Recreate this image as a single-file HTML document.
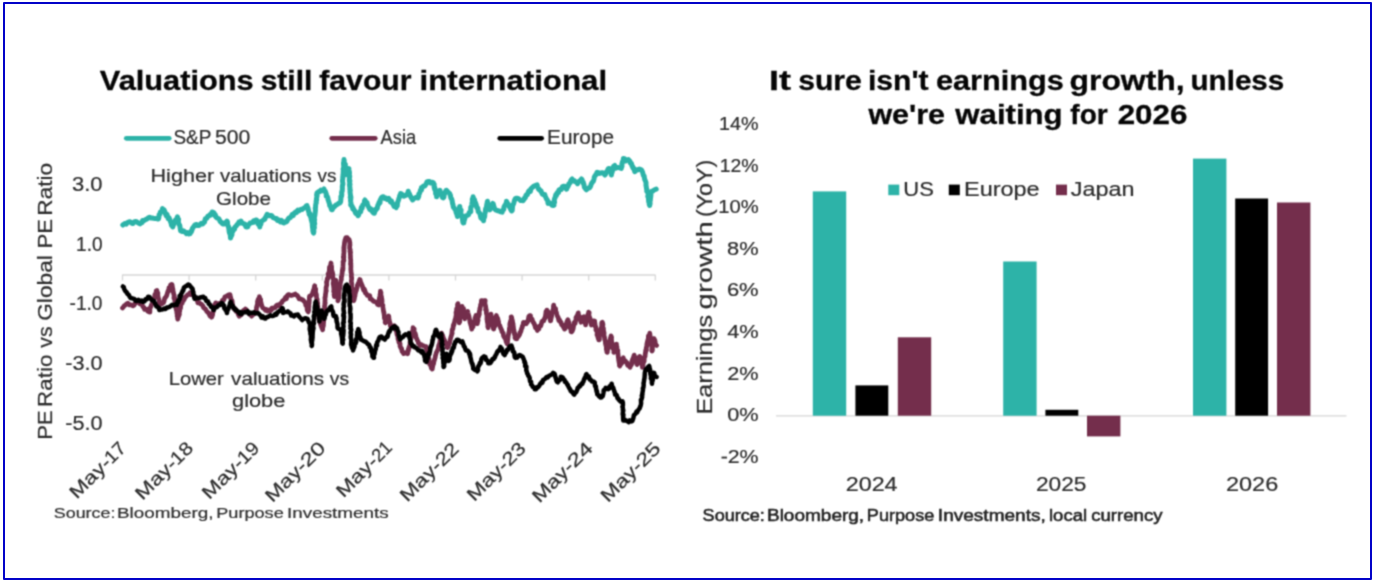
<!DOCTYPE html>
<html lang="en"><head><meta charset="utf-8"><title>Valuations still favour international</title>
<style>html,body{margin:0;padding:0;background:#fff;}body{width:1378px;height:586px;overflow:hidden;}svg{display:block;font-family:"Liberation Sans",sans-serif;}text{stroke:#2c2c2c;stroke-width:0.2px;}</style>
</head><body>
<svg width="1378" height="586" viewBox="0 0 1378 586">
<defs><filter id="soft" x="0" y="0" width="1378" height="586" filterUnits="userSpaceOnUse" color-interpolation-filters="sRGB"><feConvolveMatrix order="3" kernelMatrix="0.0484 0.1232 0.0484 0.1232 0.3136 0.1232 0.0484 0.1232 0.0484" divisor="1" edgeMode="duplicate" preserveAlpha="true"/></filter></defs>
<g filter="url(#soft)">
<rect x="0" y="0" width="1378" height="586" fill="#ffffff"/>
<g id="left-chart">
<text y="90.2" font-size="27.5" font-weight="bold" fill="#050505" style="stroke:#050505;stroke-width:0.3px"><tspan x="99.85" textLength="153.87" lengthAdjust="spacingAndGlyphs">Valuations</tspan> <tspan x="260.65" textLength="51.69" lengthAdjust="spacingAndGlyphs">still</tspan> <tspan x="319.25" textLength="92.28" lengthAdjust="spacingAndGlyphs">favour</tspan> <tspan x="419.57" textLength="187.55" lengthAdjust="spacingAndGlyphs">international</tspan></text>
<line x1="126.3" y1="138.3" x2="169.2" y2="138.3" stroke="#2db3a8" stroke-width="4.8" stroke-linecap="round"/>
<text y="144.4" font-size="19.3" fill="#2c2c2c"><tspan x="173.45" textLength="37.62" lengthAdjust="spacingAndGlyphs">S&amp;P</tspan> <tspan x="214.95" textLength="35.31" lengthAdjust="spacingAndGlyphs">500</tspan></text>
<line x1="331.8" y1="138.3" x2="375.2" y2="138.3" stroke="#742e4c" stroke-width="4.8" stroke-linecap="round"/>
<text y="144.4" font-size="19.3" fill="#2c2c2c"><tspan x="380.60" textLength="35.53" lengthAdjust="spacingAndGlyphs">Asia</tspan></text>
<line x1="499.8" y1="138.3" x2="541.6" y2="138.3" stroke="#000000" stroke-width="4.8" stroke-linecap="round"/>
<text y="144.4" font-size="19.3" fill="#2c2c2c"><tspan x="547.04" textLength="67.02" lengthAdjust="spacingAndGlyphs">Europe</tspan></text>
<line x1="122" y1="275" x2="655.5" y2="275" stroke="#d6d6d6" stroke-width="1.4"/>
<line x1="122.5" y1="275" x2="122.5" y2="280.5" stroke="#d6d6d6" stroke-width="1.3"/>
<line x1="189.1" y1="275" x2="189.1" y2="280.5" stroke="#d6d6d6" stroke-width="1.3"/>
<line x1="255.7" y1="275" x2="255.7" y2="280.5" stroke="#d6d6d6" stroke-width="1.3"/>
<line x1="322.3" y1="275" x2="322.3" y2="280.5" stroke="#d6d6d6" stroke-width="1.3"/>
<line x1="388.9" y1="275" x2="388.9" y2="280.5" stroke="#d6d6d6" stroke-width="1.3"/>
<line x1="455.5" y1="275" x2="455.5" y2="280.5" stroke="#d6d6d6" stroke-width="1.3"/>
<line x1="522.1" y1="275" x2="522.1" y2="280.5" stroke="#d6d6d6" stroke-width="1.3"/>
<line x1="588.7" y1="275" x2="588.7" y2="280.5" stroke="#d6d6d6" stroke-width="1.3"/>
<line x1="655.3" y1="275" x2="655.3" y2="280.5" stroke="#d6d6d6" stroke-width="1.3"/>
<text y="190.6" font-size="19.5" fill="#2c2c2c"><tspan x="72.03" textLength="30.56" lengthAdjust="spacingAndGlyphs">3.0</tspan></text>
<text y="250.5" font-size="19.5" fill="#2c2c2c"><tspan x="76.08" textLength="26.41" lengthAdjust="spacingAndGlyphs">1.0</tspan></text>
<text y="310.3" font-size="19.5" fill="#2c2c2c"><tspan x="69.53" textLength="32.96" lengthAdjust="spacingAndGlyphs">-1.0</tspan></text>
<text y="370.3" font-size="19.5" fill="#2c2c2c"><tspan x="65.23" textLength="37.35" lengthAdjust="spacingAndGlyphs">-3.0</tspan></text>
<text y="430.1" font-size="19.5" fill="#2c2c2c"><tspan x="65.23" textLength="37.35" lengthAdjust="spacingAndGlyphs">-5.0</tspan></text>
<text y="0" font-size="21" fill="#2c2c2c" transform="translate(52.4 438) rotate(-90)"><tspan x="-1.76" textLength="29.39" lengthAdjust="spacingAndGlyphs">PE</tspan> <tspan x="31.11" textLength="52.21" lengthAdjust="spacingAndGlyphs">Ratio</tspan> <tspan x="90.30" textLength="21.24" lengthAdjust="spacingAndGlyphs">vs</tspan> <tspan x="117.16" textLength="65.75" lengthAdjust="spacingAndGlyphs">Global</tspan> <tspan x="189.63" textLength="29.50" lengthAdjust="spacingAndGlyphs">PE</tspan> <tspan x="222.29" textLength="52.95" lengthAdjust="spacingAndGlyphs">Ratio</tspan></text>
<text y="182.2" font-size="19.0" fill="#2c2c2c"><tspan x="150.47" textLength="63.71" lengthAdjust="spacingAndGlyphs">Higher</tspan> <tspan x="220.00" textLength="91.81" lengthAdjust="spacingAndGlyphs">valuations</tspan> <tspan x="317.60" textLength="18.86" lengthAdjust="spacingAndGlyphs">vs</tspan></text>
<text y="204.9" font-size="19.0" fill="#2c2c2c"><tspan x="216.07" textLength="54.98" lengthAdjust="spacingAndGlyphs">Globe</tspan></text>
<text y="384.9" font-size="19.0" fill="#2c2c2c"><tspan x="168.78" textLength="55.08" lengthAdjust="spacingAndGlyphs">Lower</tspan> <tspan x="231.10" textLength="92.92" lengthAdjust="spacingAndGlyphs">valuations</tspan> <tspan x="329.80" textLength="19.27" lengthAdjust="spacingAndGlyphs">vs</tspan></text>
<text y="407.2" font-size="19.0" fill="#2c2c2c"><tspan x="232.03" textLength="53.37" lengthAdjust="spacingAndGlyphs">globe</tspan></text>
<path d="M122.8 225.0 L123.9 224.1 L125.0 223.5 L126.2 224.1 L127.5 222.5 L128.7 222.0 L130.1 221.7 L131.8 223.3 L133.0 223.5 L134.2 221.9 L135.9 221.4 L137.0 222.0 L138.0 222.8 L140.0 223.9 L141.0 223.0 L142.1 222.6 L142.6 220.4 L144.0 220.5 L145.2 219.8 L147.0 218.9 L148.0 217.9 L149.5 217.2 L151.0 218.1 L152.0 218.0 L153.5 218.3 L154.8 218.4 L155.9 218.6 L157.4 218.9 L158.4 219.0 L158.9 217.3 L159.1 214.7 L160.0 214.0 L160.3 212.1 L161.2 212.0 L161.8 210.9 L162.5 208.6 L163.6 210.9 L163.9 209.6 L165.0 212.0 L165.6 214.3 L166.2 215.6 L167.1 214.5 L167.6 216.8 L168.2 218.6 L169.1 217.9 L170.0 220.0 L170.7 222.4 L170.7 221.3 L171.0 222.5 L171.5 225.4 L172.2 226.0 L172.7 227.0 L173.5 224.9 L174.0 223.5 L174.4 222.3 L175.0 222.0 L175.4 220.0 L176.4 220.6 L177.1 217.6 L177.4 216.8 L177.6 217.2 L178.0 220.1 L178.6 219.4 L178.3 220.9 L178.6 223.5 L179.0 224.0 L179.0 224.6 L179.7 225.3 L180.0 226.8 L180.2 228.3 L180.6 231.0 L180.9 231.0 L182.6 231.5 L183.4 230.8 L185.0 232.0 L186.6 233.7 L187.4 232.7 L189.0 234.0 L190.1 233.6 L190.9 231.2 L191.3 232.0 L192.0 230.0 L192.4 228.5 L193.9 226.3 L194.4 225.6 L195.0 225.0 L196.6 224.5 L197.5 225.6 L199.0 225.5 L200.3 224.2 L201.1 223.4 L202.4 224.0 L203.4 223.2 L203.8 222.3 L204.5 222.1 L205.3 218.7 L205.9 218.9 L207.0 218.0 L207.8 216.2 L208.4 216.2 L209.9 214.6 L210.6 215.2 L211.4 213.5 L212.2 212.0 L212.6 212.1 L214.0 212.7 L214.8 215.5 L215.3 214.8 L216.0 217.0 L217.2 218.0 L218.3 218.5 L219.0 218.9 L220.2 221.6 L220.9 222.0 L222.1 223.3 L223.3 224.1 L224.0 224.0 L225.1 222.6 L226.3 223.0 L227.0 221.0 L227.5 222.1 L227.6 224.5 L227.8 225.2 L228.2 226.4 L228.5 226.3 L229.0 230.0 L229.0 230.0 L229.2 231.9 L229.6 233.3 L230.0 233.8 L230.2 234.3 L230.3 235.4 L230.5 238.0 L230.7 236.8 L231.3 236.1 L232.0 234.7 L231.7 232.6 L232.5 232.0 L233.3 230.2 L233.5 228.7 L234.5 229.3 L235.0 227.0 L236.3 225.8 L237.1 224.6 L238.0 224.0 L238.9 222.2 L240.3 222.8 L241.0 221.0 L241.9 223.0 L242.9 223.2 L244.0 224.0 L244.8 224.1 L245.9 226.9 L246.5 227.0 L247.8 226.7 L248.0 224.8 L249.0 224.5 L250.0 223.1 L251.0 223.0 L252.2 222.6 L253.6 221.0 L254.5 222.0 L255.7 220.0 L256.5 219.9 L258.0 222.0 L258.1 224.2 L259.0 225.0 L259.6 225.3 L259.8 227.0 L260.0 224.5 L260.3 224.5 L260.9 224.3 L261.2 221.3 L262.0 221.0 L262.8 220.5 L263.8 219.6 L264.9 219.1 L265.2 217.9 L266.0 216.5 L267.1 214.4 L268.0 214.8 L269.2 215.7 L271.0 215.5 L271.9 215.7 L273.0 217.5 L274.0 217.8 L275.4 218.6 L276.7 218.6 L277.4 220.5 L279.0 220.0 L280.4 221.9 L281.5 220.5 L283.1 222.6 L284.0 223.0 L285.1 221.7 L286.2 222.0 L287.0 221.2 L287.8 219.4 L289.0 218.0 L290.2 217.7 L291.0 216.6 L292.1 214.6 L293.1 215.7 L293.9 213.7 L294.6 212.7 L296.0 211.7 L296.6 212.5 L297.8 210.0 L299.1 210.7 L300.0 210.0 L301.0 209.3 L302.3 209.5 L304.0 208.0 L304.7 207.9 L306.2 205.9 L307.0 205.5 L307.1 205.9 L308.0 208.1 L308.3 210.3 L308.6 211.9 L309.0 212.0 L309.1 214.3 L309.8 213.6 L310.4 214.9 L310.6 217.0 L311.0 217.8 L311.3 220.1 L311.4 220.0 L312.1 222.8 L312.3 222.5 L312.3 225.9 L312.5 226.0 L312.5 227.6 L312.9 228.9 L312.8 230.5 L313.4 232.8 L313.6 233.0 L313.9 231.5 L313.8 230.6 L313.5 229.7 L313.9 228.0 L314.4 227.9 L314.1 224.8 L314.2 223.2 L314.7 223.7 L314.3 221.5 L314.6 219.5 L314.3 220.2 L314.3 218.5 L314.6 215.7 L314.8 215.8 L315.0 214.0 L315.2 212.4 L315.4 210.5 L315.4 209.3 L315.2 208.4 L315.5 207.9 L315.6 206.3 L315.6 205.4 L316.0 203.3 L316.1 203.2 L316.3 202.6 L316.1 201.3 L316.7 199.8 L316.4 199.0 L317.0 196.2 L317.2 194.7 L316.6 195.2 L317.0 193.0 L318.7 191.6 L320.0 191.5 L321.0 190.0 L322.6 190.7 L324.0 189.0 L324.2 190.9 L325.1 191.1 L325.3 191.2 L326.3 194.1 L326.2 196.1 L327.0 196.0 L327.6 197.3 L328.0 198.7 L327.9 199.2 L328.3 200.3 L329.1 202.8 L329.5 204.0 L329.7 205.6 L330.3 206.0 L331.4 209.1 L331.5 209.6 L332.1 209.8 L333.6 206.7 L334.3 206.8 L335.0 206.0 L336.0 204.9 L336.9 204.7 L338.0 204.0 L338.5 203.4 L340.1 202.8 L340.7 201.4 L340.8 199.3 L340.9 199.5 L340.9 196.8 L340.9 196.4 L341.6 196.1 L341.8 194.4 L341.6 192.9 L341.8 191.6 L342.2 191.3 L342.4 188.2 L342.4 188.2 L342.3 187.1 L342.5 185.0 L342.9 184.8 L342.9 183.1 L342.6 182.0 L342.5 180.7 L342.8 178.5 L342.8 176.4 L343.1 176.9 L343.4 174.6 L343.0 174.5 L343.3 173.3 L343.2 171.7 L343.5 171.7 L343.6 169.7 L343.1 169.2 L343.8 167.1 L343.6 164.9 L343.5 163.2 L343.5 162.8 L344.2 161.3 L343.9 160.8 L344.0 159.5 L344.3 161.9 L344.5 163.2 L344.3 163.9 L345.1 164.6 L345.4 164.4 L345.3 165.9 L345.5 168.0 L345.8 168.5 L345.7 171.0 L346.2 173.2 L346.6 173.5 L346.8 174.8 L346.9 173.3 L347.3 172.8 L347.7 170.6 L347.8 170.0 L348.9 168.7 L348.6 169.4 L348.7 170.4 L349.3 171.4 L349.5 173.2 L348.9 175.4 L349.7 177.2 L349.7 176.0 L349.4 178.2 L349.3 180.8 L349.9 180.8 L349.6 182.5 L350.0 184.4 L349.5 184.7 L349.8 185.9 L349.6 186.0 L350.0 188.0 L349.8 189.3 L350.3 190.4 L350.0 191.6 L350.2 193.2 L350.4 195.0 L350.8 196.8 L350.3 197.4 L350.9 197.0 L350.7 200.0 L350.5 200.1 L350.8 202.2 L351.0 203.2 L350.7 204.9 L351.0 205.5 L352.1 206.0 L352.8 208.8 L352.9 207.7 L354.0 210.0 L354.7 210.6 L355.3 212.6 L356.1 213.6 L357.3 213.6 L358.0 215.8 L358.7 214.8 L359.2 213.2 L359.7 211.6 L360.7 211.8 L361.0 210.0 L361.2 207.6 L362.1 208.3 L362.3 206.9 L362.8 204.8 L363.4 204.6 L364.4 202.9 L364.5 200.8 L365.0 200.0 L365.9 201.8 L366.1 202.2 L367.1 202.6 L367.1 203.7 L368.0 206.0 L368.7 207.1 L369.3 208.4 L369.9 209.6 L371.1 209.1 L371.5 209.7 L372.4 211.7 L373.6 213.0 L374.4 213.2 L374.6 211.5 L375.6 210.5 L375.6 209.3 L376.5 209.1 L377.3 208.4 L377.4 207.2 L378.0 205.0 L378.4 204.7 L379.1 202.3 L380.0 202.8 L380.2 199.9 L380.8 199.1 L381.3 198.0 L382.0 197.2 L383.4 196.7 L384.7 198.5 L386.0 198.0 L387.3 199.5 L388.7 198.5 L389.7 200.0 L390.4 202.0 L391.4 200.8 L392.2 203.1 L393.0 204.0 L393.9 206.1 L394.3 206.6 L395.6 206.9 L396.2 207.7 L396.3 205.3 L397.3 205.7 L397.5 202.8 L397.9 201.6 L397.9 201.7 L398.5 200.0 L399.1 198.0 L399.5 197.5 L399.6 195.8 L400.3 196.0 L400.6 193.5 L401.7 194.0 L403.0 195.2 L403.8 196.2 L405.0 195.7 L405.9 195.4 L406.8 194.4 L407.7 193.3 L408.2 191.3 L408.9 193.7 L409.5 193.7 L409.9 195.6 L410.5 196.0 L410.9 197.1 L412.3 199.3 L412.6 200.0 L413.5 198.7 L415.0 198.0 L416.4 197.2 L418.0 197.9 L418.8 196.2 L418.7 194.4 L419.3 193.4 L419.3 193.9 L420.0 192.0 L420.6 189.8 L421.5 190.0 L421.5 187.5 L422.4 187.6 L423.5 186.0 L425.0 186.0 L425.9 184.2 L426.2 184.0 L427.0 181.8 L427.9 181.5 L429.4 181.4 L430.5 183.0 L432.0 182.3 L433.4 182.6 L433.7 184.7 L434.2 184.4 L434.1 187.4 L434.8 187.7 L434.5 188.7 L435.0 190.0 L435.7 190.2 L435.6 193.5 L436.0 194.2 L436.7 194.9 L436.6 196.8 L436.8 196.0 L437.4 193.1 L438.1 192.9 L438.3 192.0 L439.9 190.3 L440.4 192.0 L440.4 191.8 L440.9 193.4 L441.5 195.0 L442.4 197.4 L443.2 197.9 L444.0 197.0 L444.1 194.8 L444.8 193.3 L445.0 193.0 L446.0 190.4 L446.5 190.3 L448.0 192.0 L449.7 193.5 L450.4 195.7 L450.4 195.0 L450.8 198.0 L451.5 198.6 L452.0 200.0 L452.4 202.5 L452.5 203.5 L453.0 204.6 L453.1 206.2 L453.5 207.3 L454.1 207.7 L454.8 209.2 L455.6 209.7 L456.0 212.0 L456.3 213.0 L456.8 213.9 L457.4 216.5 L457.8 215.1 L458.0 213.5 L458.0 211.6 L458.6 211.2 L458.5 210.0 L459.2 209.2 L459.6 206.6 L459.8 206.5 L459.9 209.5 L460.4 210.4 L461.1 210.1 L460.7 213.4 L461.1 214.1 L461.5 215.0 L461.8 216.0 L462.0 217.1 L462.5 218.7 L462.5 219.7 L462.9 222.3 L463.3 223.0 L463.8 222.9 L464.0 221.1 L464.3 220.1 L465.0 218.0 L465.8 215.8 L467.2 215.4 L468.5 214.8 L469.3 212.4 L470.5 212.1 L470.8 211.7 L470.7 208.4 L470.8 207.3 L471.0 206.7 L471.5 206.7 L471.9 204.3 L472.0 203.0 L472.5 202.5 L472.3 200.2 L472.3 199.1 L473.0 197.8 L473.1 196.8 L473.8 199.4 L474.1 199.8 L474.4 199.4 L475.0 202.0 L475.5 202.7 L475.7 203.3 L476.4 205.4 L476.7 207.4 L477.0 207.7 L477.8 208.2 L478.2 211.6 L478.7 212.0 L479.2 212.7 L479.9 213.3 L480.3 215.4 L480.9 217.9 L481.7 218.4 L482.0 219.0 L483.1 219.1 L483.6 220.8 L483.6 219.9 L483.8 217.3 L484.4 217.4 L484.8 215.6 L484.6 214.4 L485.2 212.6 L485.4 211.5 L485.3 211.3 L485.5 210.0 L485.6 208.9 L486.5 208.5 L486.4 207.1 L486.9 204.0 L487.2 203.2 L487.3 201.8 L487.5 201.2 L487.5 203.3 L487.7 203.7 L488.1 203.6 L488.6 206.0 L489.3 208.6 L489.2 209.0 L489.7 209.9 L490.4 209.0 L490.8 207.0 L491.3 206.0 L491.7 205.5 L492.8 203.4 L493.2 203.8 L493.5 204.9 L494.0 207.0 L494.5 208.6 L495.6 209.9 L497.1 210.5 L499.0 211.0 L500.5 211.7 L502.2 212.1 L502.3 211.2 L502.8 210.1 L503.7 209.6 L504.0 207.1 L504.5 206.0 L505.1 205.1 L505.7 204.3 L506.4 202.4 L506.5 201.2 L507.4 203.3 L507.7 203.4 L508.7 205.0 L509.0 206.0 L509.7 207.3 L510.6 208.3 L510.6 209.3 L511.6 211.0 L512.2 210.4 L512.3 209.3 L512.4 208.2 L512.5 206.6 L513.1 204.2 L513.5 204.0 L513.9 202.7 L514.6 200.1 L514.6 200.0 L515.3 198.6 L516.5 198.2 L517.4 198.2 L519.0 199.0 L520.7 200.6 L522.0 200.6 L523.0 200.7 L523.9 199.5 L524.5 197.9 L525.3 197.8 L525.9 195.5 L526.4 194.6 L527.0 194.5 L527.4 194.6 L528.4 191.7 L529.0 190.8 L530.4 191.3 L530.8 188.9 L531.7 188.1 L532.5 187.3 L534.0 186.0 L536.0 185.2 L537.1 184.9 L537.5 186.6 L538.6 189.2 L539.0 189.0 L539.6 190.1 L541.0 190.7 L541.5 192.4 L542.4 194.2 L543.6 194.7 L544.8 194.6 L545.1 196.0 L546.3 198.5 L546.5 199.0 L547.1 199.7 L547.8 201.1 L548.0 203.4 L549.2 202.5 L551.0 204.0 L552.1 205.3 L553.5 205.5 L554.0 205.3 L553.7 203.6 L554.6 202.3 L554.2 200.4 L554.6 198.5 L555.0 198.0 L555.2 197.4 L555.7 194.9 L556.6 195.1 L556.8 193.5 L557.7 192.2 L558.5 192.5 L559.0 189.8 L560.0 189.5 L561.3 189.5 L562.4 186.8 L563.4 186.3 L564.8 186.2 L565.6 188.1 L566.6 189.2 L566.8 188.1 L567.6 187.2 L568.6 185.1 L568.8 183.6 L569.5 183.5 L570.0 183.0 L570.8 180.6 L571.8 179.2 L572.1 178.9 L572.7 181.0 L574.2 180.5 L575.0 181.5 L576.6 182.3 L577.6 183.7 L578.3 182.3 L579.5 181.0 L580.6 180.1 L581.5 178.9 L582.1 179.7 L582.5 181.9 L583.3 182.3 L583.5 183.9 L584.0 184.5 L584.3 187.0 L584.9 187.9 L585.5 188.8 L586.3 189.8 L587.6 188.7 L588.5 188.0 L589.8 187.7 L590.7 185.9 L591.2 184.1 L591.9 182.9 L592.0 182.4 L593.1 181.6 L593.7 180.3 L594.0 179.0 L594.3 177.1 L595.1 175.5 L595.6 175.5 L596.4 173.9 L597.0 172.3 L597.2 172.3 L598.5 172.7 L599.5 173.5 L601.0 173.0 L602.2 172.7 L603.5 173.1 L604.9 175.0 L605.6 174.1 L606.4 172.1 L607.0 171.5 L608.0 169.4 L608.3 168.6 L609.2 168.4 L609.7 168.7 L610.2 171.7 L610.3 172.0 L610.8 172.4 L611.4 175.0 L611.5 173.4 L611.6 173.7 L612.4 171.2 L612.5 170.0 L612.6 170.0 L613.4 167.4 L613.6 166.2 L614.7 165.4 L615.9 168.1 L617.5 167.5 L618.6 167.5 L619.7 167.9 L621.3 168.4 L621.9 165.8 L622.0 166.4 L621.9 163.6 L622.3 163.0 L622.5 161.7 L623.4 160.0 L623.4 158.6 L624.5 158.7 L625.9 160.8 L627.0 160.0 L628.4 159.5 L630.0 161.4 L630.3 162.9 L631.4 163.3 L631.9 165.8 L632.5 166.0 L632.9 168.1 L633.7 168.0 L634.1 169.1 L634.2 169.8 L634.8 171.7 L635.9 170.3 L636.7 169.7 L638.0 170.0 L639.4 169.0 L640.9 169.5 L641.7 170.3 L642.5 172.0 L643.2 174.6 L643.4 175.6 L644.2 176.0 L644.2 177.0 L644.7 179.2 L644.7 179.4 L645.2 180.5 L646.0 182.4 L646.0 184.0 L646.0 185.8 L646.2 186.0 L646.5 188.7 L647.0 189.5 L646.7 191.1 L647.2 190.7 L647.5 192.4 L648.0 192.6 L648.2 194.6 L647.8 196.4 L648.2 197.4 L648.6 199.0 L648.5 199.1 L648.7 201.8 L649.2 202.4 L649.2 204.3 L649.7 205.5 L649.7 204.8 L650.1 203.7 L649.9 200.9 L650.4 200.1 L650.3 199.2 L650.3 199.2 L650.7 197.0 L650.9 195.0 L650.9 193.4 L651.6 191.5 L651.8 191.3 L653.1 190.8 L654.0 190.0 L656.2 189.2" fill="none" stroke="#2db3a8" stroke-width="5.0" stroke-linejoin="round" stroke-linecap="round"/>
<path d="M122.5 308.0 L123.6 306.7 L124.5 305.5 L125.3 305.1 L126.6 303.9 L128.0 303.2 L129.5 305.0 L131.4 304.9 L132.8 305.9 L134.0 305.2 L135.0 303.5 L136.1 302.8 L136.9 301.8 L137.9 301.6 L139.3 302.4 L140.0 304.0 L141.2 303.8 L142.1 304.8 L143.0 306.9 L143.9 307.3 L144.6 309.5 L146.0 309.5 L147.4 309.2 L147.8 311.2 L149.2 312.0 L149.9 312.1 L149.9 308.7 L150.2 307.6 L150.5 307.6 L150.8 306.7 L151.5 305.0 L152.2 302.9 L152.3 302.2 L152.8 301.5 L152.9 299.7 L153.7 298.7 L154.5 298.1 L154.6 297.6 L154.8 294.8 L155.3 294.0 L156.0 293.3 L156.2 290.7 L156.9 290.5 L157.1 291.4 L157.4 293.8 L157.9 293.0 L157.8 295.3 L158.0 296.0 L158.3 298.0 L158.8 299.1 L158.9 299.7 L159.4 301.3 L159.3 302.3 L159.8 304.9 L161.5 304.0 L163.5 302.8 L164.1 301.1 L164.5 299.0 L164.8 298.1 L165.5 297.5 L166.4 296.2 L166.9 295.0 L167.4 293.0 L167.6 292.6 L167.9 291.1 L168.9 290.9 L168.9 287.9 L169.6 288.0 L170.2 287.5 L170.6 284.9 L171.7 284.4 L172.0 284.5 L172.6 288.2 L172.1 288.2 L172.9 289.0 L173.1 291.6 L173.2 292.0 L173.4 292.6 L173.8 294.5 L174.2 295.2 L173.9 298.1 L174.6 297.7 L174.9 299.0 L174.8 300.8 L175.2 302.2 L175.0 304.0 L175.3 304.2 L175.8 306.5 L176.2 306.4 L175.9 308.5 L176.3 310.0 L176.9 311.1 L176.8 312.8 L177.3 315.0 L177.1 315.9 L177.7 316.8 L177.6 318.6 L177.8 319.2 L177.9 317.6 L178.3 317.4 L178.7 314.3 L179.0 315.4 L179.4 314.2 L179.3 312.0 L179.8 310.9 L179.5 309.3 L180.0 308.1 L180.5 308.4 L180.7 306.2 L180.9 304.9 L181.6 302.8 L182.1 303.2 L182.8 300.9 L183.5 300.5 L184.5 298.8 L184.8 297.0 L186.0 296.7 L187.2 295.1 L188.0 294.5 L189.2 294.2 L190.1 292.6 L190.9 294.7 L192.0 294.5 L193.1 294.4 L194.2 296.7 L194.7 297.5 L195.6 299.0 L196.4 298.9 L197.3 300.5 L197.9 302.8 L199.2 302.4 L200.4 303.9 L201.4 304.3 L202.8 305.6 L203.5 307.5 L204.7 308.7 L205.5 309.0 L206.5 311.0 L207.6 312.3 L208.1 312.3 L209.0 314.0 L210.1 316.0 L210.8 315.4 L211.6 317.2 L211.9 316.7 L212.4 315.3 L212.6 314.8 L212.8 312.9 L213.1 311.8 L213.6 310.0 L213.8 308.8 L214.0 307.1 L214.7 305.7 L214.6 304.6 L215.2 304.8 L215.7 302.8 L217.1 304.3 L218.3 303.5 L219.9 303.4 L220.9 303.9 L221.5 303.6 L222.4 300.3 L223.0 300.0 L223.8 299.8 L224.3 298.5 L225.0 296.7 L226.1 296.4 L227.5 295.5 L228.7 294.8 L230.0 294.6 L230.2 295.5 L230.3 297.8 L230.7 297.4 L231.2 300.5 L231.5 300.5 L232.1 300.6 L232.4 304.0 L232.6 304.0 L232.5 305.1 L233.1 306.9 L234.1 309.0 L234.9 308.4 L235.3 309.1 L236.2 311.5 L236.7 311.4 L237.9 313.0 L238.3 314.5 L239.3 316.2 L240.2 314.1 L241.4 314.7 L242.3 312.5 L243.5 310.3 L244.3 310.3 L245.4 309.0 L246.6 310.2 L247.5 312.1 L248.5 312.5 L249.2 313.8 L250.0 314.7 L250.8 315.1 L251.6 316.2 L252.4 315.4 L253.6 313.5 L254.6 313.4 L255.7 311.0 L256.1 310.8 L256.4 309.9 L256.5 307.3 L257.1 306.6 L256.9 306.0 L257.5 304.0 L257.5 301.6 L257.8 300.5 L258.3 299.1 L258.9 298.1 L259.4 298.2 L259.4 296.7 L259.9 299.1 L259.7 300.2 L260.7 299.5 L260.5 301.3 L261.0 302.5 L261.4 304.5 L261.8 305.4 L262.0 306.0 L262.8 308.0 L264.4 308.8 L265.4 310.3 L266.4 309.5 L267.5 311.1 L269.1 310.0 L270.0 311.0 L271.1 310.4 L271.8 308.1 L273.0 308.5 L274.2 307.6 L275.3 307.6 L276.2 305.9 L277.4 304.9 L279.1 305.8 L280.0 304.3 L280.6 303.3 L281.8 302.7 L282.4 301.1 L283.6 300.2 L284.4 299.5 L285.4 297.5 L286.4 298.7 L287.1 295.9 L288.3 294.5 L289.0 294.6 L290.2 295.3 L292.0 295.3 L293.7 294.8 L295.2 294.0 L296.0 295.0 L297.0 295.2 L298.0 296.5 L299.2 298.9 L300.7 298.8 L301.6 299.6 L302.5 299.6 L303.4 300.5 L304.4 301.7 L305.5 302.9 L305.7 305.2 L306.4 304.8 L306.6 306.1 L307.0 307.5 L307.1 309.4 L307.6 310.9 L308.3 311.9 L308.7 309.9 L308.7 310.5 L308.6 307.1 L309.0 306.1 L308.6 304.6 L309.0 304.0 L309.2 303.0 L309.2 301.6 L309.3 301.2 L309.3 299.8 L309.4 297.2 L309.6 296.0 L311.2 295.6 L312.4 294.0 L312.8 292.0 L313.1 291.9 L313.5 290.0 L314.0 289.0 L314.2 287.7 L314.7 285.7 L314.6 286.4 L315.4 289.1 L315.7 289.0 L315.6 290.5 L315.6 292.7 L316.0 293.8 L316.1 293.6 L316.5 295.3 L316.3 296.3 L316.5 296.7 L316.7 298.6 L317.3 299.4 L317.2 301.3 L317.7 303.2 L317.3 303.3 L317.9 306.4 L317.8 307.9 L317.9 308.0 L317.8 308.9 L318.4 311.5 L318.5 311.8 L318.4 312.3 L318.2 315.2 L318.4 315.7 L319.1 317.5 L318.9 318.2 L319.0 317.8 L319.1 319.9 L319.3 321.5 L320.2 321.7 L320.5 324.2 L321.0 325.5 L321.9 327.8 L322.2 328.5 L322.7 329.8 L322.7 329.4 L322.5 328.3 L323.1 326.7 L323.5 325.0 L323.2 322.7 L323.6 322.9 L323.7 320.9 L323.9 320.0 L323.6 318.7 L323.8 317.0 L323.6 315.2 L323.6 313.6 L323.8 314.6 L323.9 312.4 L324.3 312.1 L324.6 308.9 L324.8 309.4 L324.5 306.5 L324.4 306.5 L324.9 305.0 L324.8 303.6 L325.2 303.0 L324.9 301.7 L325.1 300.4 L324.9 297.6 L325.2 297.5 L325.5 294.8 L325.4 294.4 L325.7 293.5 L325.8 292.0 L326.3 290.8 L325.9 290.4 L326.1 289.0 L326.0 287.9 L326.8 285.0 L326.8 284.5 L326.5 282.0 L326.9 281.5 L326.8 281.5 L327.4 278.3 L327.8 278.8 L328.2 278.0 L328.5 275.4 L328.1 273.9 L329.0 274.4 L329.0 272.0 L329.3 271.1 L329.4 268.7 L329.5 267.0 L330.5 266.8 L330.4 266.7 L330.7 264.7 L331.0 263.0 L331.3 265.1 L331.6 266.9 L331.6 267.5 L331.6 267.5 L331.6 269.5 L332.0 271.0 L332.1 271.5 L332.5 272.8 L332.9 274.5 L332.7 276.7 L332.8 277.3 L333.1 278.8 L333.6 279.3 L333.4 282.5 L333.1 283.1 L333.2 284.2 L333.7 284.9 L333.5 285.8 L333.8 288.0 L333.9 289.8 L333.7 291.5 L334.4 290.7 L334.4 293.3 L334.0 294.4 L334.4 296.7 L334.5 296.7 L334.3 296.5 L334.7 293.6 L335.0 292.3 L334.5 291.1 L334.8 289.6 L335.3 290.4 L335.1 288.0 L335.2 287.1 L335.6 284.2 L335.2 283.1 L335.8 282.6 L335.3 280.7 L335.8 280.2 L335.5 282.5 L335.8 283.3 L335.9 283.4 L336.6 284.9 L336.5 287.2 L336.3 286.5 L336.9 288.2 L336.8 290.0 L336.6 292.3 L337.4 292.0 L336.8 292.7 L337.6 294.2 L337.6 295.4 L337.7 296.2 L337.7 297.5 L338.1 300.2 L337.9 300.8 L338.5 299.4 L338.6 298.1 L338.8 298.2 L338.4 294.9 L339.1 295.2 L339.2 292.8 L338.7 292.2 L339.3 291.0 L339.1 288.7 L340.0 287.9 L340.1 287.9 L339.9 287.3 L340.3 285.6 L340.0 284.4 L340.3 283.7 L340.7 281.5 L341.1 280.1 L341.4 279.6 L341.3 277.2 L341.3 277.0 L341.8 276.1 L342.0 273.6 L342.2 273.1 L342.3 270.3 L342.9 270.0 L343.1 267.8 L342.7 268.8 L343.0 266.2 L343.1 264.5 L343.2 262.7 L343.0 261.9 L343.8 260.3 L343.9 260.6 L343.8 259.6 L343.3 256.8 L343.9 257.5 L343.8 255.0 L343.6 254.3 L344.0 253.3 L343.8 250.2 L344.1 251.2 L343.8 247.7 L344.1 248.2 L344.0 246.2 L344.3 245.0 L344.5 242.8 L344.6 242.1 L345.0 240.0 L345.3 239.5 L345.9 237.5 L347.2 237.6 L347.8 238.5 L349.1 239.5 L349.5 241.5 L349.9 242.8 L349.7 242.8 L350.0 245.0 L349.7 246.0 L349.7 248.4 L350.3 250.0 L349.9 251.3 L350.6 252.3 L350.4 253.2 L350.3 254.1 L350.4 255.0 L350.5 257.2 L350.4 257.6 L350.6 259.1 L350.8 261.1 L350.8 260.8 L350.6 261.8 L350.9 263.8 L350.5 263.9 L350.9 265.4 L350.9 266.6 L350.8 269.7 L350.9 270.0 L351.0 270.5 L351.0 272.2 L351.2 272.8 L351.5 274.4 L351.3 276.0 L351.6 278.3 L351.7 277.2 L351.7 278.6 L351.3 281.6 L351.6 282.6 L351.7 283.2 L351.8 284.4 L351.7 285.7 L351.5 287.4 L352.2 288.5 L352.2 290.3 L352.1 290.7 L352.8 291.0 L352.7 293.0 L353.2 293.2 L353.0 294.6 L352.9 297.2 L353.7 298.1 L353.4 299.2 L353.8 300.8 L354.4 298.4 L354.5 297.3 L354.4 297.4 L355.0 295.9 L355.1 294.5 L355.2 292.5 L355.4 293.2 L355.9 290.8 L356.5 290.3 L356.5 288.4 L357.1 287.6 L357.2 285.6 L358.1 284.0 L358.6 282.7 L359.1 281.7 L359.7 279.5 L360.1 279.7 L360.7 282.7 L361.2 283.0 L361.4 284.8 L362.0 284.9 L362.7 287.0 L363.0 288.0 L363.7 290.3 L364.2 288.9 L365.1 291.2 L365.3 293.1 L366.2 293.3 L367.3 295.4 L367.9 295.2 L368.3 295.5 L369.8 295.7 L370.2 298.9 L371.0 298.8 L372.1 299.7 L372.9 300.7 L374.0 301.5 L375.5 301.8 L376.5 302.2 L377.6 304.5 L378.6 305.0 L379.0 302.8 L379.0 301.9 L379.5 301.6 L379.3 298.4 L379.5 298.0 L380.0 296.2 L380.2 295.0 L380.0 294.7 L380.4 293.2 L380.4 291.2 L380.4 291.4 L381.0 292.7 L380.8 294.6 L381.5 296.6 L381.5 296.4 L381.5 298.5 L381.9 299.1 L382.1 301.8 L381.8 302.7 L382.0 304.7 L382.9 305.3 L382.7 306.4 L382.9 307.1 L383.3 309.6 L383.3 310.0 L383.8 312.8 L384.0 312.3 L384.1 314.5 L384.4 316.6 L384.3 317.9 L385.0 317.6 L384.6 318.7 L385.4 319.6 L385.1 322.5 L385.5 322.9 L385.8 322.4 L386.1 320.9 L387.0 319.5 L387.7 318.5 L388.2 317.2 L388.6 316.0 L388.8 316.3 L389.0 319.2 L389.4 320.4 L389.5 321.0 L390.0 323.4 L390.3 323.6 L390.3 325.7 L391.6 326.5 L393.0 326.3 L394.4 325.7 L394.8 327.3 L395.3 328.4 L396.1 330.9 L396.5 331.2 L396.8 332.7 L396.8 333.5 L397.2 335.2 L397.6 335.6 L397.9 336.2 L398.0 339.1 L398.7 338.7 L398.6 340.8 L398.9 342.4 L399.5 342.2 L400.1 343.8 L400.0 346.3 L400.6 347.0 L400.8 347.9 L401.6 348.6 L402.0 351.5 L402.6 351.7 L403.6 353.6 L405.0 353.0 L406.6 352.3 L407.7 353.7 L407.8 352.2 L408.3 351.2 L408.2 349.4 L408.9 349.2 L408.8 347.9 L409.3 346.5 L409.5 346.3 L410.1 344.2 L410.0 342.0 L410.4 341.6 L410.3 339.9 L410.8 339.4 L411.1 337.5 L411.6 336.5 L411.6 336.8 L411.9 334.4 L411.9 333.5 L412.4 332.2 L412.2 331.8 L413.0 329.8 L413.0 327.7 L413.3 328.8 L414.2 329.1 L413.9 330.9 L414.7 333.0 L415.2 333.2 L415.9 336.0 L415.7 337.3 L416.5 338.1 L417.3 340.3 L417.9 341.1 L418.3 342.3 L418.4 343.2 L419.3 343.6 L420.0 345.5 L421.5 344.7 L422.5 345.5 L423.6 345.9 L424.8 346.2 L426.2 346.5 L426.1 348.2 L426.8 348.6 L426.6 350.1 L427.5 351.4 L427.6 352.8 L427.7 354.0 L428.3 355.0 L428.4 356.7 L428.7 358.3 L429.0 359.0 L429.3 361.9 L429.2 361.9 L429.6 364.2 L430.5 363.9 L430.7 365.5 L431.3 367.5 L431.4 368.1 L432.3 369.1 L432.3 367.9 L432.7 366.5 L432.9 365.4 L433.7 363.4 L433.8 362.5 L433.8 361.4 L434.1 361.1 L434.9 358.3 L435.2 357.4 L435.4 355.8 L435.6 355.4 L436.2 353.0 L436.9 351.5 L437.4 350.5 L438.1 349.2 L438.4 347.6 L438.6 346.4 L438.7 345.4 L439.1 345.1 L439.7 342.9 L440.1 342.6 L440.0 340.5 L440.3 339.8 L440.7 337.9 L440.4 337.2 L441.1 335.8 L441.5 334.0 L441.5 333.2 L442.3 335.1 L442.6 335.2 L443.0 337.0 L443.4 338.3 L443.7 338.7 L444.6 340.4 L444.9 342.5 L445.4 342.4 L446.1 344.0 L446.6 345.3 L446.8 347.4 L447.7 347.6 L448.4 345.9 L448.3 345.8 L449.4 343.6 L449.5 342.5 L449.7 342.3 L450.1 340.2 L450.9 337.0 L451.0 336.7 L451.7 334.6 L451.8 334.2 L452.2 333.1 L451.9 332.7 L452.2 329.6 L452.4 329.9 L453.0 328.5 L453.2 326.2 L453.4 324.9 L453.7 325.2 L454.0 324.5 L454.4 322.1 L454.4 322.2 L455.1 320.1 L455.0 319.6 L455.6 318.6 L455.8 316.7 L456.2 315.1 L456.0 312.4 L456.5 312.0 L456.5 311.9 L456.6 308.9 L457.3 309.0 L457.6 306.0 L457.5 305.0 L457.5 304.8 L457.9 303.6 L458.0 304.5 L457.9 307.0 L458.5 306.9 L457.9 308.4 L458.7 311.4 L458.4 310.9 L458.5 313.0 L458.4 315.2 L458.3 315.1 L458.8 315.7 L459.1 317.9 L458.8 319.0 L458.7 320.1 L459.3 321.6 L459.2 322.9 L459.5 320.9 L459.8 321.8 L459.9 318.8 L459.7 317.1 L460.4 317.7 L460.4 316.0 L460.6 314.5 L461.1 312.8 L461.3 311.8 L461.2 311.1 L461.4 309.9 L462.0 308.1 L462.0 306.4 L462.9 308.7 L463.6 308.7 L463.5 309.2 L463.7 312.1 L464.1 311.6 L464.3 313.5 L464.3 314.2 L464.2 317.5 L464.5 317.2 L464.7 318.8 L464.9 316.5 L465.8 315.6 L466.4 313.7 L466.8 313.3 L467.7 311.4 L467.8 312.3 L468.5 314.8 L468.4 314.9 L469.0 316.3 L469.3 318.2 L469.1 317.5 L469.7 320.0 L470.0 322.6 L470.0 322.6 L470.9 324.6 L470.7 324.7 L471.0 325.4 L471.5 327.8 L471.8 329.1 L471.8 326.6 L472.7 326.0 L473.1 326.8 L473.0 324.3 L473.7 324.2 L473.8 322.0 L474.4 321.1 L474.7 320.5 L475.2 317.5 L475.3 317.9 L475.9 315.5 L476.3 316.6 L476.0 319.0 L476.4 320.4 L476.5 320.0 L477.0 322.2 L477.3 323.7 L477.7 321.6 L478.1 320.3 L477.8 321.1 L477.9 317.3 L478.3 317.3 L478.6 316.6 L478.6 314.0 L479.3 314.6 L479.3 312.0 L479.3 311.2 L480.0 309.3 L479.8 308.5 L480.5 306.5 L480.6 304.5 L480.7 304.9 L481.3 303.2 L481.4 301.3 L481.4 300.5 L483.3 301.1 L484.9 300.5 L485.2 300.6 L484.9 302.6 L485.2 305.2 L485.3 305.3 L485.5 305.6 L485.9 308.2 L485.6 309.7 L486.3 309.7 L486.4 311.6 L486.3 312.7 L486.5 314.0 L486.9 314.0 L487.0 317.6 L487.1 317.0 L486.9 319.5 L487.6 320.0 L487.5 320.9 L487.2 321.6 L487.6 322.8 L488.0 326.4 L487.8 326.5 L488.2 327.8 L488.2 326.6 L488.6 324.0 L489.2 323.1 L489.3 322.5 L489.5 321.0 L489.7 319.0 L489.9 317.2 L490.5 318.1 L490.7 315.1 L490.9 314.1 L491.4 316.4 L491.1 316.6 L491.3 316.6 L492.1 319.9 L492.2 320.8 L492.3 321.5 L492.6 321.8 L492.4 322.8 L492.6 325.6 L493.1 326.3 L493.4 328.8 L493.7 329.1 L494.1 327.2 L494.5 325.8 L494.7 326.6 L494.3 324.7 L495.0 322.4 L495.0 322.0 L495.4 320.5 L495.6 318.6 L495.7 319.0 L495.8 317.7 L496.4 315.5 L496.5 317.1 L496.9 317.2 L497.7 318.3 L498.3 321.1 L498.5 321.5 L498.7 323.8 L499.2 325.2 L499.9 325.7 L499.9 325.9 L500.5 327.8 L500.9 328.7 L501.9 330.6 L501.8 331.5 L502.9 332.9 L503.2 333.2 L503.5 335.8 L504.1 337.0 L504.5 337.3 L505.2 338.5 L505.7 339.3 L506.1 341.5 L506.7 342.8 L507.3 344.1 L507.6 342.1 L507.3 341.2 L507.8 339.7 L507.7 339.5 L507.9 338.9 L508.0 337.8 L508.4 334.9 L508.4 334.7 L509.2 332.2 L508.8 332.8 L509.3 330.5 L509.4 328.2 L509.8 327.6 L510.0 327.9 L509.8 325.1 L509.9 323.1 L510.7 324.0 L510.4 321.4 L510.6 321.5 L511.3 319.0 L511.1 316.8 L511.4 316.8 L511.6 317.3 L512.2 320.4 L512.4 321.2 L512.5 321.5 L512.9 323.6 L513.1 323.9 L513.1 324.7 L513.5 327.9 L513.5 328.0 L513.5 329.9 L514.0 330.0 L514.0 332.4 L514.6 332.9 L514.4 334.4 L514.7 334.1 L515.1 335.5 L514.9 337.6 L515.5 338.7 L516.8 338.8 L517.4 335.9 L518.2 336.8 L519.6 334.6 L519.9 332.5 L520.1 333.1 L521.0 331.0 L521.2 330.0 L521.6 328.5 L522.2 327.7 L522.3 326.0 L523.1 325.1 L523.4 322.5 L523.7 322.3 L524.8 322.8 L526.4 323.7 L526.5 322.1 L527.4 322.2 L528.1 320.0 L528.2 319.9 L528.8 316.6 L529.3 316.0 L529.7 315.5 L530.5 315.6 L530.6 318.7 L531.1 319.7 L532.1 319.1 L532.5 320.5 L533.2 322.3 L534.0 323.1 L534.7 325.4 L534.8 325.1 L535.5 327.8 L536.1 327.2 L536.8 328.6 L537.3 330.5 L537.7 329.1 L539.0 328.9 L539.1 326.2 L539.8 326.0 L540.7 326.0 L541.4 323.7 L541.9 321.6 L542.6 320.9 L543.8 320.9 L544.2 319.6 L544.6 318.1 L544.9 318.4 L545.5 315.7 L545.5 315.3 L545.7 314.4 L546.0 311.4 L546.8 310.8 L546.9 310.0 L547.0 310.7 L548.0 311.7 L548.5 314.1 L548.6 315.5 L548.8 316.4 L549.7 317.4 L550.2 319.6 L550.4 320.9 L550.7 320.7 L551.2 317.2 L551.3 317.9 L551.7 315.7 L551.4 313.9 L552.0 313.0 L552.3 312.9 L552.9 309.9 L552.8 310.1 L553.5 308.4 L553.4 306.5 L553.7 305.1 L553.8 307.4 L554.3 308.0 L555.1 308.2 L555.6 308.7 L555.7 311.0 L556.5 312.7 L556.6 314.2 L556.6 314.2 L557.6 316.7 L557.8 316.8 L558.2 317.5 L558.8 320.4 L559.3 319.5 L560.4 322.0 L560.9 322.1 L561.4 324.1 L561.9 325.0 L562.8 325.1 L562.9 326.0 L564.2 328.3 L564.6 329.1 L565.3 328.4 L565.5 327.7 L566.2 326.8 L566.2 324.5 L566.3 324.2 L567.0 321.5 L567.4 320.9 L567.9 319.6 L568.4 321.8 L569.0 323.1 L568.8 322.0 L569.0 325.6 L569.7 325.5 L569.8 326.5 L570.4 328.5 L571.1 330.3 L571.0 331.6 L571.5 331.9 L572.4 330.9 L572.5 329.0 L573.1 329.1 L573.5 326.5 L574.0 323.8 L574.1 322.7 L575.2 323.3 L575.5 320.9 L576.2 319.5 L575.9 317.9 L576.7 316.3 L577.2 315.6 L577.5 316.3 L577.6 314.8 L578.3 312.8 L578.4 314.6 L579.0 316.1 L579.2 316.0 L579.6 317.5 L580.1 318.0 L580.0 319.9 L580.6 320.5 L581.0 322.3 L581.3 320.6 L582.2 320.2 L582.8 317.7 L583.2 317.1 L583.7 316.8 L583.8 318.8 L583.9 320.0 L584.1 319.8 L584.9 320.6 L585.3 323.8 L585.4 323.1 L585.6 325.0 L585.7 324.0 L586.5 321.3 L586.4 322.2 L587.0 318.8 L587.1 318.5 L587.0 316.4 L587.5 317.3 L588.1 314.0 L588.4 314.0 L588.6 312.2 L589.2 312.6 L588.9 314.4 L589.2 316.7 L589.5 317.0 L590.0 318.5 L590.5 319.7 L590.9 320.1 L591.1 322.4 L591.0 323.6 L591.4 325.0 L591.7 324.1 L592.5 322.2 L593.2 321.1 L594.1 320.9 L594.7 321.2 L594.5 322.1 L595.0 323.4 L595.3 326.7 L595.8 326.6 L596.0 328.4 L595.9 329.9 L596.4 330.5 L596.5 330.6 L597.2 332.1 L597.0 335.0 L597.6 335.5 L597.7 336.3 L598.4 338.9 L598.8 339.5 L598.8 340.0 L599.3 339.8 L599.4 338.2 L599.4 334.9 L600.0 334.4 L600.2 332.4 L599.9 332.1 L600.5 331.0 L600.6 329.4 L600.8 329.0 L601.5 326.6 L601.7 325.8 L601.7 323.8 L601.8 322.7 L602.3 322.3 L602.8 323.6 L603.0 324.8 L602.5 325.7 L602.9 328.2 L603.4 328.1 L603.5 331.2 L603.4 331.2 L603.7 331.3 L604.1 333.0 L604.0 334.0 L604.0 335.6 L604.6 337.5 L604.7 339.5 L605.2 340.5 L605.2 341.8 L605.5 341.6 L605.4 343.2 L606.0 345.8 L606.3 347.0 L606.4 347.6 L606.6 348.9 L606.3 349.0 L606.6 350.0 L606.9 352.3 L607.3 352.4 L607.6 349.4 L607.9 348.3 L608.3 348.2 L608.3 346.6 L608.4 344.3 L609.0 344.0 L609.2 341.6 L610.0 342.2 L610.2 339.2 L610.2 338.3 L610.7 338.3 L611.0 335.9 L611.6 337.4 L611.3 338.1 L611.5 338.9 L611.6 341.9 L611.9 342.7 L612.4 344.0 L612.3 345.2 L612.8 346.8 L612.8 348.5 L613.3 347.8 L613.8 349.4 L613.9 351.5 L613.8 352.3 L614.3 351.4 L614.6 349.3 L615.1 348.0 L615.7 347.5 L615.9 346.7 L616.5 344.2 L616.5 344.1 L616.5 346.0 L617.0 347.0 L616.9 347.3 L616.9 347.9 L617.2 349.8 L617.9 350.6 L617.7 351.8 L617.9 352.8 L618.1 355.0 L618.1 355.1 L618.5 358.4 L618.7 359.0 L618.6 360.2 L619.1 359.9 L618.9 361.6 L619.5 364.5 L619.4 365.4 L619.8 366.0 L620.5 364.0 L620.6 362.8 L621.4 363.7 L622.1 362.1 L622.0 359.1 L623.1 358.3 L623.3 357.8 L623.7 360.0 L624.3 360.1 L625.6 361.1 L625.8 362.2 L626.9 362.7 L627.4 364.6 L627.9 365.5 L628.9 365.6 L630.1 367.3 L630.2 365.9 L630.6 364.5 L631.5 364.8 L631.9 361.1 L632.1 361.0 L632.7 358.8 L633.1 358.8 L633.5 357.3 L633.9 356.0 L634.2 355.1 L634.3 355.7 L635.2 358.0 L635.0 359.0 L635.4 359.1 L635.9 360.9 L636.4 361.7 L636.4 363.3 L637.0 364.6 L637.5 362.4 L637.9 361.3 L638.1 360.1 L638.8 359.4 L639.2 357.8 L639.1 357.1 L639.7 356.4 L640.3 357.6 L640.1 359.0 L640.4 361.2 L641.1 362.0 L641.6 363.6 L641.6 364.0 L642.1 365.7 L642.3 365.6 L642.4 367.3 L642.8 366.3 L643.1 364.5 L643.1 363.5 L643.4 362.7 L644.2 361.1 L643.9 360.6 L644.2 360.0 L644.4 356.9 L645.1 356.4 L645.1 356.1 L645.3 352.8 L645.5 353.1 L645.7 350.2 L646.2 350.6 L646.5 350.1 L646.2 347.8 L646.9 346.1 L646.8 345.6 L646.8 344.8 L647.1 342.8 L647.5 341.3 L648.0 339.5 L648.0 339.9 L648.3 338.4 L648.4 335.9 L649.0 335.1 L649.5 335.3 L649.8 333.2 L650.1 335.6 L650.1 335.1 L650.1 337.9 L650.2 337.4 L651.0 340.0 L651.0 341.7 L650.9 342.0 L651.4 342.7 L651.1 344.2 L651.7 345.4 L651.8 346.7 L651.9 347.8 L651.8 350.8 L652.0 351.0 L652.4 350.3 L652.4 347.8 L652.1 346.8 L652.6 345.0 L652.6 343.8 L652.7 344.0 L652.7 343.1 L653.2 341.9 L653.1 339.2 L653.3 338.7 L654.0 338.6 L654.8 340.2 L655.0 340.9 L655.4 343.0 L656.0 345.2 L656.6 345.5" fill="none" stroke="#742e4c" stroke-width="4.7" stroke-linejoin="round" stroke-linecap="round"/>
<path d="M122.9 286.5 L123.7 287.1 L124.2 289.0 L125.2 290.8 L125.6 291.6 L126.4 292.0 L127.6 294.0 L128.4 294.4 L129.7 296.7 L130.6 298.0 L131.9 298.2 L133.3 298.8 L134.4 298.9 L135.8 301.0 L136.9 300.8 L138.3 299.8 L140.0 301.3 L141.8 300.6 L143.0 301.8 L144.5 301.4 L145.5 299.3 L146.6 299.3 L147.5 298.7 L148.1 296.7 L149.4 296.9 L150.4 298.4 L151.2 299.3 L152.2 300.3 L153.2 300.6 L154.3 301.8 L154.6 302.4 L155.8 304.7 L156.3 306.2 L156.8 306.0 L157.9 307.5 L158.7 307.7 L159.4 310.0 L160.7 309.6 L162.5 309.5 L164.0 308.5 L165.5 309.0 L166.7 307.6 L168.0 307.5 L169.3 307.0 L170.7 305.9 L172.2 304.7 L173.7 305.4 L175.0 304.5 L176.8 304.9 L177.2 302.8 L177.9 301.2 L178.2 302.3 L178.8 299.8 L179.7 299.1 L179.6 296.0 L180.6 296.7 L180.9 294.6 L181.2 293.8 L182.3 292.0 L182.5 291.0 L183.2 290.8 L183.8 287.9 L184.0 287.5 L185.4 286.4 L186.5 286.0 L188.2 284.5 L189.1 284.8 L190.6 286.6 L191.6 287.8 L192.2 288.5 L192.6 289.0 L192.9 291.2 L193.3 291.9 L193.4 293.5 L193.5 294.4 L194.1 295.2 L194.1 296.4 L194.6 298.7 L195.9 297.3 L197.0 298.2 L199.3 297.7 L201.3 297.2 L203.4 296.7 L204.3 298.0 L205.1 297.9 L206.0 300.3 L206.5 301.1 L208.1 301.4 L208.6 303.9 L209.3 303.9 L210.4 305.4 L211.2 307.0 L212.0 306.9 L213.1 308.7 L213.7 310.0 L214.8 307.5 L216.2 307.5 L217.4 306.6 L217.9 305.8 L218.8 304.9 L220.0 305.0 L221.5 303.0 L222.9 303.9 L223.6 306.1 L224.1 305.6 L224.3 308.3 L225.0 308.5 L225.4 309.9 L225.8 310.1 L226.4 311.1 L227.0 313.0 L227.4 310.4 L228.2 309.2 L228.0 309.1 L228.9 307.5 L229.1 306.8 L229.8 304.6 L230.1 302.8 L230.7 301.8 L231.2 303.0 L231.9 305.5 L233.0 306.0 L233.5 308.2 L234.4 308.2 L235.2 310.0 L235.9 309.5 L237.2 311.0 L238.3 312.0 L239.7 313.7 L240.3 312.2 L241.3 314.1 L242.9 312.4 L244.3 312.2 L245.4 312.0 L246.3 312.3 L247.7 311.1 L248.8 313.6 L250.3 312.7 L251.6 313.0 L253.1 312.6 L254.2 312.3 L255.6 313.4 L256.8 313.1 L257.7 313.0 L258.8 313.7 L260.0 315.0 L260.8 315.6 L261.5 317.5 L262.9 316.4 L263.9 318.2 L265.3 318.6 L267.0 316.9 L268.0 317.0 L269.0 316.2 L270.3 315.2 L272.0 316.1 L272.7 316.0 L274.4 315.3 L275.1 314.0 L276.4 314.6 L277.3 312.5 L278.2 312.0 L280.0 310.5 L281.3 310.1 L282.3 308.0 L282.8 308.7 L282.7 309.5 L283.1 313.0 L283.4 313.0 L284.8 312.0 L285.3 312.1 L286.9 311.9 L287.8 311.4 L289.4 312.8 L290.5 313.3 L291.2 315.5 L292.4 315.3 L294.0 316.4 L295.0 314.9 L296.8 314.7 L297.9 314.6 L298.7 316.1 L300.0 317.5 L301.0 318.5 L302.1 320.1 L303.5 319.0 L305.1 318.2 L305.9 318.3 L307.6 318.8 L308.1 320.4 L308.9 322.5 L309.6 322.9 L310.0 324.2 L310.0 324.6 L309.9 327.0 L309.7 329.0 L309.9 330.0 L310.1 331.2 L310.5 330.4 L310.4 333.9 L310.7 334.0 L310.9 335.2 L310.9 335.7 L311.0 336.3 L311.0 339.5 L310.8 339.3 L311.2 341.7 L311.6 343.5 L311.8 342.6 L311.8 345.9 L311.7 346.0 L311.9 345.6 L312.0 344.0 L311.8 342.3 L312.3 339.8 L311.9 339.8 L312.4 338.6 L312.6 336.9 L312.4 336.6 L312.6 335.1 L312.7 333.0 L312.7 331.9 L312.9 331.5 L312.9 330.3 L313.5 328.3 L313.2 327.0 L313.3 324.2 L313.7 323.7 L314.0 323.4 L313.6 321.3 L313.8 320.1 L314.1 319.0 L313.8 316.5 L314.0 315.4 L314.7 314.5 L314.8 313.0 L314.3 312.0 L314.4 312.5 L314.8 310.0 L314.7 307.8 L315.0 306.4 L315.0 305.6 L315.5 303.9 L315.3 302.8 L316.0 302.9 L315.8 301.5 L316.2 303.2 L316.5 304.5 L316.3 306.2 L316.8 306.5 L317.2 306.7 L317.4 309.2 L317.4 311.3 L317.9 311.9 L318.0 313.6 L318.1 314.1 L318.5 314.9 L318.9 316.8 L318.9 317.3 L319.1 318.1 L319.4 319.4 L319.3 321.5 L319.4 321.3 L319.6 319.6 L319.7 316.9 L320.3 316.0 L320.3 314.5 L320.9 313.8 L321.3 311.7 L321.4 310.5 L321.7 311.1 L321.9 312.8 L322.7 314.5 L322.8 316.9 L323.9 316.3 L324.1 318.8 L324.6 318.2 L325.0 315.7 L325.8 314.5 L326.4 311.9 L326.7 311.2 L327.6 310.5 L328.2 310.5 L329.5 308.3 L330.6 307.0 L331.3 306.4 L331.4 308.6 L332.1 310.1 L332.5 311.0 L333.2 312.6 L333.2 314.3 L333.5 315.5 L333.8 316.0 L335.8 316.0 L336.2 317.3 L336.1 318.7 L336.6 318.4 L336.5 320.4 L336.8 322.0 L337.1 322.7 L337.5 324.3 L337.5 326.1 L337.6 327.9 L337.9 328.4 L339.5 329.2 L340.7 329.8 L341.1 331.7 L341.1 333.5 L341.1 334.0 L341.4 334.5 L341.7 336.5 L342.2 337.9 L342.0 338.2 L342.3 341.4 L342.3 343.1 L342.8 343.6 L342.8 343.1 L342.5 341.3 L343.2 339.6 L343.0 339.3 L342.6 337.2 L343.0 336.7 L343.2 335.5 L343.4 333.4 L343.5 331.5 L343.6 330.1 L343.2 330.2 L343.3 329.9 L343.0 327.5 L343.5 327.0 L343.4 325.0 L343.1 323.1 L343.8 322.3 L343.5 322.2 L343.8 318.8 L343.7 318.0 L344.0 317.6 L343.9 315.4 L343.3 315.7 L343.5 314.0 L344.1 313.1 L343.8 311.8 L343.6 310.4 L343.5 308.8 L343.5 308.2 L343.9 306.4 L343.7 305.2 L343.6 304.1 L344.1 301.5 L344.4 302.0 L344.5 300.7 L344.2 298.0 L343.9 298.1 L344.0 295.5 L344.5 295.3 L344.3 294.0 L344.5 293.1 L344.8 290.1 L344.6 289.8 L344.8 288.7 L345.2 287.0 L346.0 285.3 L346.9 284.6 L347.4 286.5 L348.6 287.0 L348.6 288.3 L349.2 290.2 L349.3 290.6 L349.1 292.5 L349.5 294.0 L349.6 294.6 L349.7 297.2 L349.9 296.3 L349.6 299.0 L349.7 299.3 L349.6 301.7 L350.1 301.5 L349.6 303.4 L349.6 305.8 L350.0 306.0 L350.1 306.9 L350.4 309.0 L350.2 309.0 L350.1 312.1 L350.2 312.9 L350.6 314.2 L350.5 314.5 L350.6 315.7 L350.6 318.1 L350.5 319.6 L350.2 321.1 L350.1 321.4 L350.7 322.7 L350.8 323.2 L350.6 325.0 L350.4 326.0 L350.8 326.7 L350.4 328.4 L351.2 329.4 L351.0 331.1 L350.6 332.2 L350.7 333.9 L351.1 333.9 L350.7 336.6 L350.8 338.5 L351.0 337.7 L351.4 340.6 L351.2 341.7 L351.1 343.4 L351.0 344.7 L351.6 343.9 L351.5 346.0 L352.2 348.2 L352.9 348.3 L353.1 350.5 L353.3 349.2 L354.4 346.8 L354.5 346.5 L354.7 343.9 L355.7 343.3 L355.8 342.2 L356.3 341.7 L355.9 339.9 L356.3 338.8 L357.1 338.0 L357.0 335.5 L357.4 333.1 L357.2 332.3 L357.7 332.6 L358.1 329.8 L358.3 329.1 L358.5 329.3 L359.2 332.2 L359.5 332.2 L359.5 334.5 L359.6 334.7 L359.8 336.6 L360.5 337.2 L360.7 339.5 L361.7 339.7 L362.8 340.5 L364.7 341.5 L365.5 341.5 L366.3 342.3 L367.0 343.0 L367.7 344.0 L368.9 344.6 L369.6 346.0 L369.6 347.1 L370.6 347.5 L371.0 349.2 L371.2 351.1 L371.5 352.0 L372.0 352.8 L372.3 354.1 L372.4 356.6 L373.4 355.9 L373.5 357.8 L374.0 357.7 L373.8 356.3 L374.1 354.7 L374.6 353.8 L374.9 351.7 L375.2 350.5 L375.6 348.6 L375.8 349.1 L376.0 346.8 L376.2 345.0 L377.1 345.5 L377.0 343.5 L377.3 342.0 L378.3 340.7 L378.5 340.0 L379.0 338.3 L379.6 337.3 L380.6 336.7 L381.4 336.5 L383.0 338.5 L383.6 338.2 L384.8 339.5 L385.3 338.8 L386.7 336.6 L387.5 336.7 L387.9 335.5 L388.1 334.2 L388.6 332.6 L389.0 331.4 L389.5 331.8 L390.3 329.8 L391.1 328.7 L392.6 327.3 L393.7 328.4 L394.4 326.4 L395.8 327.0 L397.2 328.4 L397.2 329.6 L398.0 331.0 L398.5 332.3 L398.6 334.0 L398.8 335.2 L399.4 337.8 L400.0 337.5 L400.0 339.5 L401.1 338.4 L402.3 337.3 L403.0 337.0 L404.1 335.3 L405.5 334.4 L406.6 335.1 L407.7 334.7 L408.9 333.2 L408.9 334.2 L409.0 335.0 L409.5 337.9 L409.6 338.0 L409.7 338.3 L410.4 340.6 L410.7 343.1 L410.8 343.5 L411.7 343.8 L412.7 346.3 L413.8 346.0 L414.5 347.3 L415.9 347.7 L416.9 348.6 L418.3 350.3 L418.8 350.6 L420.0 350.6 L421.4 352.3 L422.0 350.9 L423.1 352.7 L423.3 354.0 L424.1 354.3 L424.3 355.4 L424.6 357.3 L425.0 357.2 L425.0 360.8 L426.1 359.7 L426.2 361.9 L426.6 361.7 L426.8 358.8 L427.5 358.7 L427.9 356.6 L428.2 355.5 L428.5 353.3 L429.4 354.1 L429.7 351.9 L429.9 351.8 L430.3 349.6 L430.3 347.4 L430.9 347.4 L431.0 345.8 L431.5 345.6 L432.1 343.4 L432.4 341.8 L432.5 340.2 L433.0 339.4 L433.2 336.9 L434.2 335.6 L434.2 335.5 L434.9 333.6 L435.3 333.5 L435.1 332.0 L435.8 329.9 L436.1 329.8 L436.8 331.9 L437.3 333.0 L437.4 335.3 L438.3 335.8 L438.6 336.7 L439.3 336.9 L440.0 336.0 L441.3 333.9 L441.3 335.4 L441.2 336.4 L441.4 337.3 L441.6 338.8 L441.5 339.4 L442.2 341.2 L441.6 343.5 L441.7 344.2 L442.4 344.6 L441.8 345.9 L442.3 347.7 L442.7 348.8 L442.4 350.0 L442.4 351.2 L442.6 351.7 L442.7 354.3 L442.5 354.6 L443.2 357.0 L443.1 357.5 L442.7 358.0 L443.2 358.6 L443.3 362.0 L443.5 362.6 L443.3 363.1 L443.7 363.9 L443.5 366.3 L443.6 367.0 L444.2 366.3 L444.0 363.0 L444.7 362.7 L444.8 360.7 L445.1 360.0 L445.2 359.2 L445.4 357.9 L446.1 356.0 L446.3 355.9 L446.6 353.7 L447.1 355.4 L447.3 356.6 L447.7 357.5 L447.9 358.7 L448.7 360.9 L449.3 360.5 L449.7 358.5 L449.6 356.3 L450.3 355.5 L450.7 354.0 L451.4 353.2 L451.4 351.4 L452.2 351.1 L452.4 349.5 L452.7 348.2 L453.7 347.8 L454.4 344.2 L454.7 344.0 L455.4 341.6 L456.5 341.3 L456.8 340.0 L457.8 339.7 L459.5 340.7 L460.9 342.2 L462.3 341.4 L462.7 342.4 L462.8 343.1 L463.6 344.8 L463.8 346.1 L464.9 347.1 L465.0 348.2 L465.9 350.5 L467.0 350.3 L467.8 350.9 L469.1 352.3 L469.1 353.8 L470.0 353.7 L470.3 356.0 L470.0 356.2 L470.7 358.4 L470.8 358.5 L471.1 360.5 L471.4 361.8 L471.7 362.4 L471.7 363.0 L472.6 364.0 L472.7 365.7 L473.2 366.5 L473.2 368.7 L475.2 370.0 L476.5 369.5 L477.3 371.4 L478.0 370.2 L477.7 369.9 L478.3 366.4 L479.2 365.1 L479.3 365.0 L479.9 362.9 L480.3 363.8 L480.7 362.7 L481.3 360.0 L481.4 359.1 L482.3 357.5 L483.2 357.1 L484.1 356.4 L485.4 357.1 L486.1 360.1 L486.8 360.0 L488.1 361.1 L488.3 363.3 L489.6 363.2 L490.3 363.1 L491.6 361.0 L492.5 359.0 L493.7 359.1 L494.4 357.4 L494.8 357.5 L495.7 355.0 L496.4 354.0 L497.5 351.4 L497.8 351.0 L498.4 351.1 L499.1 349.9 L500.2 348.4 L500.5 346.9 L501.1 348.6 L501.8 348.5 L502.5 351.0 L503.0 352.6 L503.5 353.9 L504.6 355.1 L505.3 353.3 L506.1 352.7 L506.6 351.5 L507.1 349.7 L507.8 349.9 L508.7 348.2 L509.7 346.4 L510.6 346.0 L511.4 345.5 L512.2 347.9 L512.6 348.7 L512.6 349.9 L512.8 351.4 L513.5 351.5 L513.9 352.0 L514.4 353.0 L514.5 355.4 L514.8 357.2 L515.5 357.8 L516.3 357.1 L517.3 357.6 L518.7 355.5 L519.6 355.1 L520.9 355.6 L521.3 356.1 L522.7 356.8 L523.7 359.1 L524.1 360.3 L524.7 361.5 L524.4 362.1 L525.3 363.4 L525.1 366.1 L525.7 366.5 L526.4 366.5 L526.2 370.3 L526.4 370.4 L526.8 371.7 L527.2 373.4 L527.8 374.2 L528.2 375.7 L529.2 376.8 L529.7 378.2 L529.8 379.5 L530.1 381.5 L531.1 381.7 L531.1 384.4 L531.9 385.1 L532.8 386.9 L534.3 387.3 L534.7 389.3 L536.0 389.2 L536.6 387.3 L537.9 387.5 L538.5 386.6 L539.1 386.1 L540.1 383.9 L540.9 383.6 L541.4 382.3 L542.4 382.6 L543.2 379.9 L544.3 379.5 L545.5 378.3 L546.5 377.1 L547.7 377.5 L548.7 376.1 L549.6 375.5 L551.1 374.9 L552.3 374.2 L553.2 372.8 L554.0 373.3 L554.6 373.9 L555.0 375.1 L555.5 377.5 L555.8 378.1 L556.4 380.5 L556.9 381.6 L557.8 382.3 L558.5 380.5 L559.6 380.3 L560.5 378.7 L560.8 376.8 L561.9 376.9 L562.8 377.7 L563.8 379.5 L564.5 379.8 L564.9 381.7 L566.0 382.3 L566.6 383.1 L567.4 384.9 L567.8 384.8 L568.4 386.5 L569.7 388.8 L570.1 389.2 L570.7 390.9 L571.4 391.6 L572.4 391.7 L573.4 393.8 L574.2 394.6 L574.6 393.6 L575.8 392.3 L576.1 392.2 L577.2 389.9 L577.7 387.8 L578.3 387.8 L579.6 385.7 L580.0 386.2 L581.7 383.5 L582.4 383.7 L583.0 382.0 L583.4 381.6 L584.1 379.1 L584.5 379.0 L584.9 377.4 L585.8 377.4 L585.9 374.8 L586.5 374.2 L587.3 376.0 L588.0 377.4 L588.8 376.3 L589.8 379.6 L590.6 379.6 L591.9 381.5 L592.4 381.4 L593.3 381.4 L594.7 382.3 L594.7 383.1 L595.0 385.9 L595.1 385.6 L595.9 386.4 L596.0 388.5 L596.3 389.5 L596.7 391.8 L597.0 391.4 L597.2 393.9 L597.4 394.6 L598.7 395.3 L599.1 396.3 L600.6 397.6 L601.5 397.4 L602.2 395.6 L602.7 396.1 L603.3 393.7 L603.5 392.5 L603.7 390.2 L604.6 389.9 L605.2 389.3 L605.6 387.8 L606.9 388.5 L608.3 389.2 L609.0 388.7 L609.7 386.2 L610.5 385.8 L611.3 385.3 L611.6 383.7 L612.0 385.7 L612.3 386.8 L613.3 387.8 L613.3 389.0 L613.7 389.4 L614.4 391.6 L614.8 392.4 L615.1 394.6 L616.3 394.7 L616.9 395.7 L617.6 398.5 L618.3 398.4 L619.2 400.1 L620.8 401.8 L622.5 401.4 L622.9 402.8 L622.9 403.9 L622.9 405.5 L622.4 406.8 L622.6 407.1 L622.9 408.3 L622.8 410.1 L623.3 410.3 L622.8 412.8 L622.7 414.6 L623.4 414.5 L623.0 417.1 L623.4 417.0 L623.1 418.6 L623.3 420.5 L624.8 420.2 L625.7 420.3 L627.4 421.2 L628.8 422.2 L629.8 420.4 L631.5 421.4 L632.2 421.2 L633.1 418.9 L633.5 417.5 L633.9 415.0 L635.1 414.2 L635.6 413.7 L636.5 411.6 L637.2 412.3 L637.7 410.9 L638.8 409.3 L639.7 408.3 L639.9 407.4 L640.5 406.0 L640.7 405.3 L641.1 403.4 L641.0 401.5 L640.9 399.9 L641.5 399.5 L642.2 396.9 L641.8 395.7 L642.4 394.6 L642.2 394.4 L642.8 390.9 L643.0 389.9 L642.8 388.2 L643.2 387.9 L643.4 387.5 L643.7 384.8 L643.5 383.1 L643.7 383.0 L644.1 380.5 L644.0 380.3 L644.0 380.3 L644.5 378.2 L644.7 375.4 L644.8 374.9 L644.7 374.6 L644.9 372.4 L645.1 371.4 L645.8 369.2 L646.8 369.7 L647.1 368.0 L648.2 366.9 L649.2 366.0 L649.6 367.6 L650.0 369.0 L650.2 370.7 L650.0 371.0 L650.2 371.6 L650.3 373.7 L650.6 375.0 L651.1 377.4 L650.8 378.3 L651.5 378.9 L651.5 379.7 L651.9 380.4 L651.8 382.6 L652.0 383.7 L652.0 383.4 L652.2 381.4 L652.4 381.1 L652.8 380.0 L652.8 376.6 L652.6 376.4 L653.3 376.2 L653.1 375.2 L653.3 372.8 L654.2 372.9 L654.8 375.7 L655.8 376.5 L656.6 376.9" fill="none" stroke="#000000" stroke-width="4.5" stroke-linejoin="round" stroke-linecap="round"/>
<text transform="translate(127.10 449.40) rotate(-45)" y="0" font-size="18.5" fill="#2c2c2c"><tspan x="-71.30" textLength="50.28" lengthAdjust="spacingAndGlyphs">May-</tspan><tspan x="-21.64" textLength="21.55" lengthAdjust="spacingAndGlyphs">17</tspan></text>
<text transform="translate(194.24 449.26) rotate(-45)" y="0" font-size="18.5" fill="#2c2c2c"><tspan x="-73.07" textLength="50.28" lengthAdjust="spacingAndGlyphs">May-</tspan><tspan x="-23.54" textLength="23.51" lengthAdjust="spacingAndGlyphs">18</tspan></text>
<text transform="translate(260.46 449.14) rotate(-45)" y="0" font-size="18.5" fill="#2c2c2c"><tspan x="-72.29" textLength="50.28" lengthAdjust="spacingAndGlyphs">May-</tspan><tspan x="-22.71" textLength="22.65" lengthAdjust="spacingAndGlyphs">19</tspan></text>
<text transform="translate(326.62 449.08) rotate(-45)" y="0" font-size="18.5" fill="#2c2c2c"><tspan x="-76.60" textLength="50.28" lengthAdjust="spacingAndGlyphs">May-</tspan><tspan x="-26.69" textLength="26.73" lengthAdjust="spacingAndGlyphs">20</tspan></text>
<text transform="translate(393.36 448.54) rotate(-45)" y="0" font-size="18.5" fill="#2c2c2c"><tspan x="-70.64" textLength="50.28" lengthAdjust="spacingAndGlyphs">May-</tspan><tspan x="-20.44" textLength="20.31" lengthAdjust="spacingAndGlyphs">21</tspan></text>
<text transform="translate(459.96 450.04) rotate(-45)" y="0" font-size="18.5" fill="#2c2c2c"><tspan x="-74.50" textLength="50.28" lengthAdjust="spacingAndGlyphs">May-</tspan><tspan x="-24.49" textLength="24.48" lengthAdjust="spacingAndGlyphs">22</tspan></text>
<text transform="translate(526.90 449.60) rotate(-45)" y="0" font-size="18.5" fill="#2c2c2c"><tspan x="-74.61" textLength="50.28" lengthAdjust="spacingAndGlyphs">May-</tspan><tspan x="-24.61" textLength="24.60" lengthAdjust="spacingAndGlyphs">23</tspan></text>
<text transform="translate(594.12 449.28) rotate(-45)" y="0" font-size="18.5" fill="#2c2c2c"><tspan x="-77.15" textLength="50.28" lengthAdjust="spacingAndGlyphs">May-</tspan><tspan x="-27.27" textLength="27.31" lengthAdjust="spacingAndGlyphs">24</tspan></text>
<text transform="translate(661.78 449.52) rotate(-45)" y="0" font-size="18.5" fill="#2c2c2c"><tspan x="-75.94" textLength="50.28" lengthAdjust="spacingAndGlyphs">May-</tspan><tspan x="-26.00" textLength="26.02" lengthAdjust="spacingAndGlyphs">25</tspan></text>
<text y="518.3" font-size="15.3" fill="#2c2c2c"><tspan x="53.79" textLength="61.68" lengthAdjust="spacingAndGlyphs">Source:</tspan> <tspan x="116.99" textLength="96.47" lengthAdjust="spacingAndGlyphs">Bloomberg,</tspan> <tspan x="216.25" textLength="67.50" lengthAdjust="spacingAndGlyphs">Purpose</tspan> <tspan x="287.10" textLength="101.55" lengthAdjust="spacingAndGlyphs">Investments</tspan></text>
</g>
<g id="right-chart">
<text y="90.1" font-size="27.5" font-weight="bold" fill="#050505" style="stroke:#050505;stroke-width:0.3px"><tspan x="768.97" textLength="21.92" lengthAdjust="spacingAndGlyphs">It</tspan> <tspan x="798.15" textLength="63.59" lengthAdjust="spacingAndGlyphs">sure</tspan> <tspan x="867.94" textLength="60.70" lengthAdjust="spacingAndGlyphs">isn't</tspan> <tspan x="935.93" textLength="127.88" lengthAdjust="spacingAndGlyphs">earnings</tspan> <tspan x="1069.53" textLength="115.08" lengthAdjust="spacingAndGlyphs">growth,</tspan> <tspan x="1190.52" textLength="93.75" lengthAdjust="spacingAndGlyphs">unless</tspan></text>
<text y="123.6" font-size="27.5" font-weight="bold" fill="#050505" style="stroke:#050505;stroke-width:0.3px"><tspan x="868.45" textLength="76.60" lengthAdjust="spacingAndGlyphs">we're</tspan> <tspan x="955.36" textLength="107.30" lengthAdjust="spacingAndGlyphs">waiting</tspan> <tspan x="1070.38" textLength="37.42" lengthAdjust="spacingAndGlyphs">for</tspan> <tspan x="1117.66" textLength="69.67" lengthAdjust="spacingAndGlyphs">2026</tspan></text>
<text y="462.9" font-size="19" fill="#2c2c2c"><tspan x="720.65" textLength="37.98" lengthAdjust="spacingAndGlyphs">-2%</tspan></text>
<text y="421.3" font-size="19" fill="#2c2c2c"><tspan x="727.24" textLength="31.40" lengthAdjust="spacingAndGlyphs">0%</tspan></text>
<text y="379.7" font-size="19" fill="#2c2c2c"><tspan x="727.32" textLength="31.32" lengthAdjust="spacingAndGlyphs">2%</tspan></text>
<text y="338.0" font-size="19" fill="#2c2c2c"><tspan x="727.16" textLength="31.48" lengthAdjust="spacingAndGlyphs">4%</tspan></text>
<text y="296.4" font-size="19" fill="#2c2c2c"><tspan x="726.90" textLength="31.75" lengthAdjust="spacingAndGlyphs">6%</tspan></text>
<text y="254.8" font-size="19" fill="#2c2c2c"><tspan x="727.13" textLength="31.52" lengthAdjust="spacingAndGlyphs">8%</tspan></text>
<text y="213.2" font-size="19" fill="#2c2c2c"><tspan x="718.19" textLength="40.40" lengthAdjust="spacingAndGlyphs">10%</tspan></text>
<text y="171.6" font-size="19" fill="#2c2c2c"><tspan x="719.75" textLength="38.82" lengthAdjust="spacingAndGlyphs">12%</tspan></text>
<text y="129.9" font-size="19" fill="#2c2c2c"><tspan x="719.12" textLength="39.45" lengthAdjust="spacingAndGlyphs">14%</tspan></text>
<text y="0" font-size="22" fill="#2c2c2c" transform="translate(711.9 412.6) rotate(-90)"><tspan x="-2.02" textLength="99.71" lengthAdjust="spacingAndGlyphs">Earnings</tspan> <tspan x="103.22" textLength="88.27" lengthAdjust="spacingAndGlyphs">growth</tspan> <tspan x="195.51" textLength="57.24" lengthAdjust="spacingAndGlyphs">(YoY)</tspan></text>
<line x1="776" y1="415.9" x2="1346.5" y2="415.9" stroke="#d6d6d6" stroke-width="1.4"/>
<rect x="812.8" y="191.4" width="33.4" height="224.3" fill="#2db3a8"/>
<rect x="855.4" y="385.4" width="32.9" height="30.3" fill="#000000"/>
<rect x="897.8" y="337.3" width="33.4" height="78.4" fill="#742e4c"/>
<rect x="1003.2" y="261.5" width="33.4" height="154.2" fill="#2db3a8"/>
<rect x="1045.4" y="409.8" width="32.9" height="5.9" fill="#000000"/>
<rect x="1087.0" y="415.7" width="33.4" height="20.7" fill="#742e4c"/>
<rect x="1193.0" y="158.6" width="33.4" height="257.1" fill="#2db3a8"/>
<rect x="1235.2" y="198.5" width="32.9" height="217.2" fill="#000000"/>
<rect x="1277.0" y="202.5" width="33.4" height="213.2" fill="#742e4c"/>
<rect x="888.3" y="184.6" width="11" height="10.6" fill="#2db3a8"/>
<text y="196.3" font-size="20.5" fill="#2c2c2c"><tspan x="903.35" textLength="30.57" lengthAdjust="spacingAndGlyphs">US</tspan></text>
<rect x="948.8" y="184.6" width="11" height="10.6" fill="#000000"/>
<text y="196.3" font-size="20.5" fill="#2c2c2c"><tspan x="964.02" textLength="75.64" lengthAdjust="spacingAndGlyphs">Europe</tspan></text>
<rect x="1056" y="184.6" width="11" height="10.6" fill="#742e4c"/>
<text y="196.3" font-size="20.5" fill="#2c2c2c"><tspan x="1070.85" textLength="63.78" lengthAdjust="spacingAndGlyphs">Japan</tspan></text>
<text y="490.6" font-size="20.6" fill="#2c2c2c"><tspan x="845.73" textLength="51.88" lengthAdjust="spacingAndGlyphs">2024</tspan></text>
<text y="490.6" font-size="20.6" fill="#2c2c2c"><tspan x="1035.97" textLength="50.47" lengthAdjust="spacingAndGlyphs">2025</tspan></text>
<text y="490.6" font-size="20.6" fill="#2c2c2c"><tspan x="1226.03" textLength="52.24" lengthAdjust="spacingAndGlyphs">2026</tspan></text>
<text y="520.5" font-size="15.6" fill="#222222" style="stroke:#222222;stroke-width:0.5px"><tspan x="702.59" textLength="62.30" lengthAdjust="spacingAndGlyphs">Source:</tspan> <tspan x="766.98" textLength="97.19" lengthAdjust="spacingAndGlyphs">Bloomberg,</tspan> <tspan x="866.85" textLength="67.50" lengthAdjust="spacingAndGlyphs">Purpose</tspan> <tspan x="937.89" textLength="107.88" lengthAdjust="spacingAndGlyphs">Investments,</tspan> <tspan x="1049.00" textLength="38.05" lengthAdjust="spacingAndGlyphs">local</tspan> <tspan x="1091.26" textLength="71.24" lengthAdjust="spacingAndGlyphs">currency</tspan></text>
</g>
</g>
<rect x="4" y="3" width="1367" height="576" fill="none" stroke="#0303c8" stroke-width="2" stroke-linejoin="round"/>
</svg></body></html>
